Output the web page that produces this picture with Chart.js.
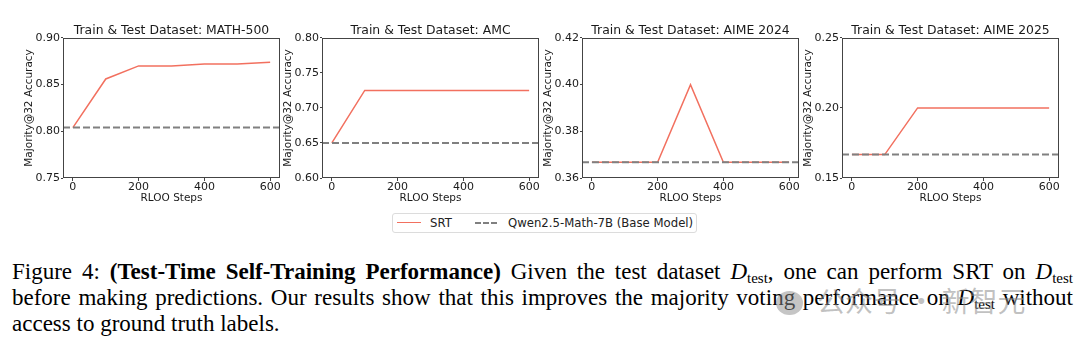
<!DOCTYPE html>
<html>
<head>
<meta charset="utf-8">
<script src="https://cdn.jsdelivr.net/npm/chart.js@4.4.0/dist/chart.umd.min.js"></script>
<style>
  html, body { margin: 0; padding: 0; background: #fff; }
  body { width: 1080px; height: 345px; position: relative; overflow: hidden; font-family: "DejaVu Sans", sans-serif; }
  .panel { position: absolute; top: 0; width: 284px; height: 210px; }
  .legend { position: absolute; left: 392px; top: 213px; width: 303px; height: 18px; border: 1px solid #dcdcdc; border-radius: 3px; font-size: 11.7px; color: #222; }
  .legend span { position: absolute; top: 1px; line-height: 16px; white-space: nowrap; }
  .legend i { position: absolute; top: 8px; width: 24px; height: 0; }
  .caption { position: absolute; left: 12px; top: 259px; width: 1061px; font-family: "Liberation Serif", "Times New Roman", serif; font-size: 23px; line-height: 26px; color: #000; }
  .caption div { white-space: nowrap; }
  .caption sub { font-size: 15px; vertical-align: -4px; line-height: 0; }
  .caption .cd { font-style: italic; }
  .mark { position: absolute; left: 776px; top: 283px; color: rgba(140,140,140,0.55); font-family: "Noto Sans CJK SC", sans-serif; font-size: 28px; line-height: 34px; white-space: nowrap; }
  .mark b { display: inline-block; width: 27px; height: 24px; border-radius: 50%; background: rgba(140,140,140,0.5); vertical-align: -3px; margin-right: 14px; }
</style>
</head>
<body>
<div class="panel" style="left:0px"><canvas id="c0"></canvas></div>
<div class="panel" style="left:259px"><canvas id="c1"></canvas></div>
<div class="panel" style="left:519px"><canvas id="c2"></canvas></div>
<div class="panel" style="left:779px"><canvas id="c3"></canvas></div>

<div class="legend">
  <i style="left:4px; border-top:1.5px solid #f2705f;"></i>
  <span style="left:37px">SRT</span>
  <i style="left:82px; width:22px; border-top:2px dashed #808080;"></i>
  <span style="left:115px">Qwen2.5-Math-7B (Base Model)</span>
</div>

<div class="caption">
  <div class="jl">Figure 4: <b>(Test-Time Self-Training Performance)</b> Given the test dataset <span class="cd">D</span><sub>test</sub>, one can perform SRT on <span class="cd">D</span><sub>test</sub></div>
  <div class="jl">before making predictions. Our results show that this improves the majority voting performance on <span class="cd">D</span><sub>test</sub> without</div>
  <div>access to ground truth labels.</div>
</div>
<div class="mark"><b></b>公众号 · 新智元</div>

<script>
// données
const steps = [0, 100, 200, 300, 400, 500, 600];
const panelTitles = [
  'Train & Test Dataset: MATH-500',
  'Train & Test Dataset: AMC',
  'Train & Test Dataset: AIME 2024',
  'Train & Test Dataset: AIME 2025'
];
const srtMath500 = [0.804, 0.856, 0.870, 0.870, 0.872, 0.872, 0.874];
const srtAmc = [0.650, 0.725, 0.725, 0.725, 0.725, 0.725, 0.725];
const srtAime2024 = [0.3667, 0.3667, 0.3667, 0.4000, 0.3667, 0.3667, 0.3667];
const srtAime2025 = [0.1667, 0.1667, 0.2000, 0.2000, 0.2000, 0.2000, 0.2000];
const baseValues = [0.804, 0.650, 0.3667, 0.1667];
const yRanges = [[0.75, 0.90], [0.60, 0.80], [0.36, 0.42], [0.15, 0.25]];
const yTickValues = [
  [0.75, 0.80, 0.85, 0.90],
  [0.60, 0.65, 0.70, 0.75, 0.80],
  [0.36, 0.38, 0.40, 0.42],
  [0.15, 0.20, 0.25]
];
const xRange = [-30, 630];
const xTickValues = [0, 200, 400, 600];
const seriesLabels = ['SRT', 'Qwen2.5-Math-7B (Base Model)'];

const srtSeries = [srtMath500, srtAmc, srtAime2024, srtAime2025];
const axisColor = '#444';
const textColor = '#1a1a1a';

// cadre autour de la zone de tracé (comme les spines matplotlib)
const framePlugin = {
  id: 'frame',
  afterDraw(chart) {
    const a = chart.chartArea;
    const ctx = chart.ctx;
    ctx.save();
    ctx.strokeStyle = axisColor;
    ctx.lineWidth = 1;
    ctx.strokeRect(Math.round(a.left) + 0.5, Math.round(a.top) + 0.5,
      Math.round(a.right - a.left) - 1, Math.round(a.bottom - a.top) - 1);
    ctx.restore();
  }
};

function makePanel(i) {
  const ctx = document.getElementById('c' + i).getContext('2d');
  return new Chart(ctx, {
    type: 'line',
    data: {
      datasets: [
        {
          label: seriesLabels[1],
          data: xRange.map(x => ({ x: x, y: baseValues[i] })),
          borderColor: '#808080',
          borderWidth: 2,
          borderDash: [7, 3],
          pointRadius: 0,
          order: 0
        },
        {
          label: seriesLabels[0],
          data: steps.map((s, k) => ({ x: s, y: srtSeries[i][k] })),
          borderColor: '#f2705f',
          borderWidth: 1.5,
          pointRadius: 0,
          tension: 0,
          order: 1
        }
      ]
    },
    options: {
      responsive: true,
      maintainAspectRatio: false,
      animation: false,
      events: [],
      layout: { padding: { left: 0, right: 4, top: 0, bottom: 0 } },
      plugins: {
        legend: { display: false },
        tooltip: { enabled: false },
        title: {
          display: true,
          text: panelTitles[i],
          fullSize: false,
          color: textColor,
          font: { family: 'DejaVu Sans', size: 12.4, weight: 'normal' },
          padding: { top: 23, bottom: 0 }
        }
      },
      scales: {
        x: {
          type: 'linear',
          min: xRange[0],
          max: xRange[1],
          afterBuildTicks: scale => { scale.ticks = xTickValues.map(v => ({ value: v })); },
          afterFit: scale => { scale.height = 32; },
          ticks: { color: textColor, padding: 0, maxRotation: 0, font: { family: 'DejaVu Sans', size: 11 } },
          grid: { drawOnChartArea: false, drawTicks: true, tickLength: 3, color: axisColor },
          border: { display: false },
          title: {
            display: true, text: 'RLOO Steps', color: textColor,
            font: { family: 'DejaVu Sans', size: 10.5 },
            padding: { top: 0, bottom: 5.7 }
          }
        },
        y: {
          min: yRanges[i][0],
          max: yRanges[i][1],
          afterBuildTicks: scale => { scale.ticks = yTickValues[i].map(v => ({ value: v })); },
          afterFit: scale => { scale.width = 63; },
          ticks: {
            color: textColor, padding: 1,
            font: { family: 'DejaVu Sans', size: 11 },
            callback: v => v.toFixed(2)
          },
          grid: { drawOnChartArea: false, drawTicks: true, tickLength: 2, color: axisColor },
          border: { display: false },
          title: {
            display: true, text: 'Majority@32 Accuracy', color: textColor,
            font: { family: 'DejaVu Sans', size: 10.5 },
            padding: { top: 23, bottom: 0 }
          }
        }
      }
    },
    plugins: [framePlugin]
  });
}

[0, 1, 2, 3].forEach(makePanel);

// justifier les deux premières lignes de la légende de figure
const target = 1061;
document.querySelectorAll('.caption .jl').forEach(line => {
  line.style.display = 'inline-block';
  const w = line.getBoundingClientRect().width;
  const spaces = (line.textContent.trim().match(/ +/g) || []).length;
  line.style.display = 'block';
  if (spaces > 0) line.style.wordSpacing = ((target - w) / spaces) + 'px';
});
</script>
</body>
</html>
